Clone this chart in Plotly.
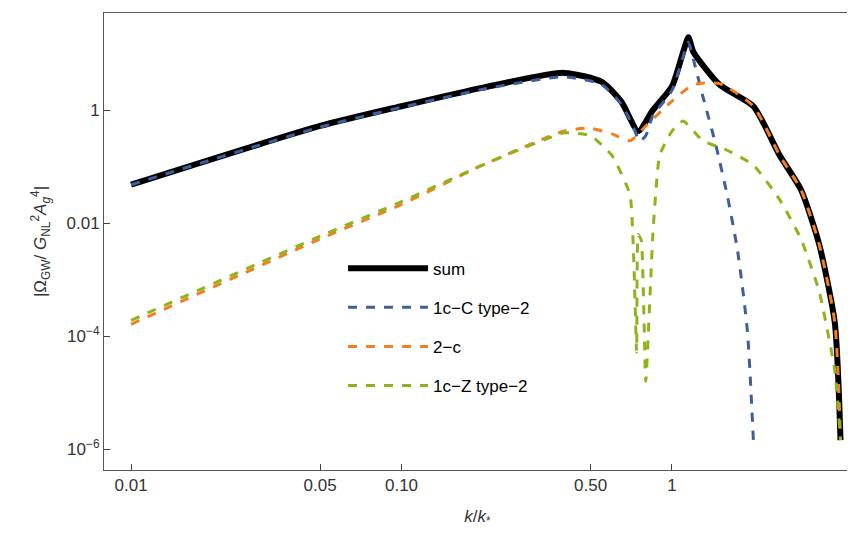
import plotly.graph_objects as go

k_sum = [0.01,0.05,0.1,0.2,0.4,0.55,0.65,0.75,0.85,1.0,1.1,1.15,1.2,1.5,2.0,2.5,3.0,3.5,4.0,4.2]
y_sum = [-1.32,-0.28,0.07,0.4,0.66,0.5,0.15,-0.37,0.0,0.42,1.03,1.29,1.03,0.45,0.07,-0.8,-1.41,-2.37,-3.76,-5.84]

k_c = [0.01,0.05,0.1,0.2,0.4,0.55,0.65,0.72,0.76,0.8,0.85,1.0,1.1,1.15,1.2,1.3,1.45,1.6,1.75,1.9,2.0]
y_c = [-1.32,-0.3,0.05,0.37,0.59,0.45,0.1,-0.3,-0.55,-0.45,-0.1,0.35,0.95,1.2,0.9,0.25,-0.6,-1.5,-2.5,-3.9,-5.84]

k_2 = [0.01,0.05,0.1,0.2,0.4,0.5,0.6,0.7,0.8,1.0,1.2,1.5,2.0,2.5,3.0,3.5,4.0,4.2]
y_2 = [-3.79,-2.28,-1.67,-0.97,-0.37,-0.32,-0.42,-0.54,-0.28,0.16,0.45,0.47,0.07,-0.8,-1.41,-2.37,-3.76,-5.84]

k_z = [0.01,0.05,0.1,0.2,0.4,0.5,0.6,0.7,0.74,0.75,0.77,0.8,0.85,0.9,1.0,1.1,1.3,1.6,2.0,2.5,3.0,3.5,4.0,4.2]
y_z = [-3.72,-2.23,-1.62,-0.97,-0.4,-0.45,-0.8,-1.5,-4.28,-2.2,-2.3,-4.8,-2.2,-0.8,-0.37,-0.19,-0.54,-0.71,-0.97,-1.58,-2.28,-3.2,-4.6,-5.84]

def p(v): return [10**x for x in v]

fig = go.Figure()
fig.add_trace(go.Scatter(x=k_sum, y=p(y_sum), name="sum", legendgroup="a", mode="lines", line=dict(color="black", width=6, shape="spline", smoothing=0.6)))
fig.add_trace(go.Scatter(x=k_c, y=p(y_c), name="1c\u2212C type\u22122", legendgroup="b", mode="lines", line=dict(color="#3d5f9e", width=3, dash="dash", shape="spline", smoothing=0.6)))
fig.add_trace(go.Scatter(x=k_2, y=p(y_2), name="2\u2212c", legendgroup="c", mode="lines", line=dict(color="#f47f20", width=3, dash="dash", shape="spline", smoothing=0.6)))
fig.add_trace(go.Scatter(x=k_z, y=p(y_z), name="1c\u2212Z type\u22122", legendgroup="d", mode="lines", line=dict(color="#8db41a", width=3, dash="dash", shape="spline", smoothing=0.4)))

xt = [0.01,0.05,0.1,0.5,1]
xl = ["0.01","0.05","0.10","0.50","1"]
yt = [1,0.01,1e-4,1e-6]
yl = ["1","0.01","10<sup>−4</sup>","10<sup>−6</sup>"]

fig.update_layout(
    width=855, height=542, plot_bgcolor="white", paper_bgcolor="white",
    margin=dict(l=96, r=12, t=5, b=80),
    font=dict(family="Liberation Sans", size=17, color="#333"),
    showlegend=True,
    legend=dict(x=0.32, y=0.48, xanchor="left", yanchor="top", bgcolor="rgba(0,0,0,0)",
                font=dict(size=17, color="black"), traceorder="grouped", tracegroupgap=14, itemwidth=80),
    xaxis=dict(type="log", range=[-2.1, 0.662], tickvals=xt, ticktext=xl, showgrid=False,
               showline=True, mirror=True, linecolor="#555", ticks="inside", ticklen=6,
               zeroline=False,
               title=dict(text="<i>k</i>/<i>k</i><sub>*</sub>", font=dict(size=17))),
    yaxis=dict(type="log", range=[-6.37, 1.72], tickvals=yt, ticktext=yl, showgrid=False,
               showline=True, mirror=True, linecolor="#555", ticks="inside", ticklen=6,
               zeroline=False,
               title=dict(text="|Ω<sub>GW</sub>/ <i>G</i><sub>NL</sub><sup>2</sup><i>A</i><sub><i>g</i></sub><sup>4</sup>|", font=dict(size=17))),
)
fig.write_html("out.html")
